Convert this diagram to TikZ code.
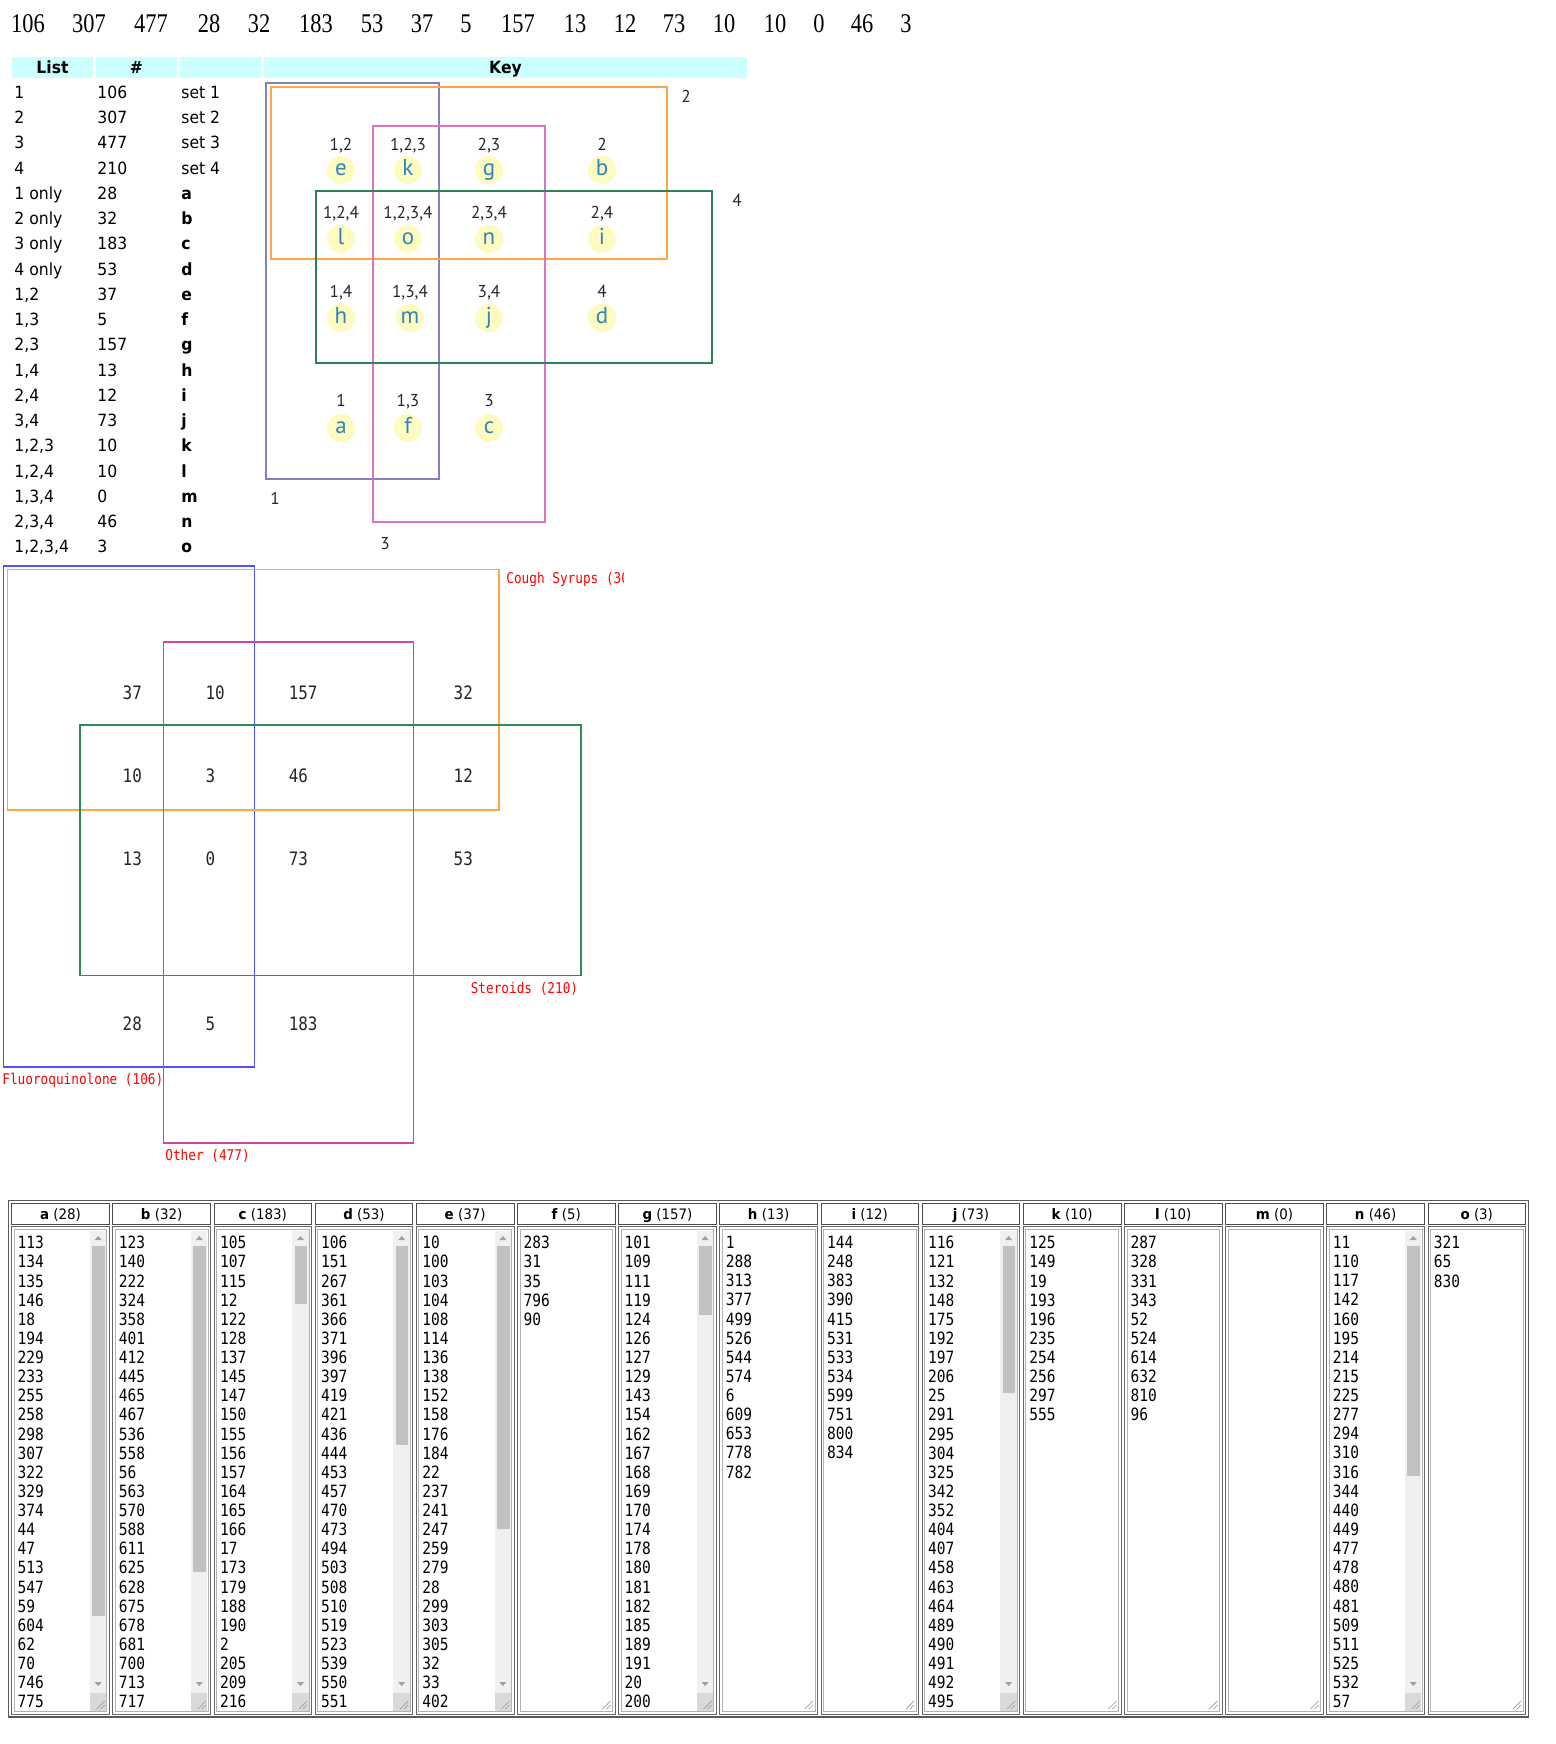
\documentclass[tikz,border=0pt]{standalone}
\usepackage{fontspec}
\usepackage{tikz}
\newfontfamily\numfont[FakeStretch=0.83]{Liberation Serif}
\newfontfamily\tabfont[FakeStretch=0.93]{DejaVu Sans}
\newfontfamily\keyfont{PT Sans}
\newfontfamily\vennfont[FakeStretch=0.86]{DejaVu Sans Mono}

\definecolor{hdcyan}{HTML}{CCFFFF}
\definecolor{keyblue}{HTML}{8080C4}
\definecolor{keyorange}{HTML}{FFA64D}
\definecolor{keypink}{HTML}{E070C4}
\definecolor{keygreen}{HTML}{2E8055}
\definecolor{keyyellow}{HTML}{FFFBC0}
\definecolor{keyletter}{HTML}{2C86BC}
\definecolor{vblue}{HTML}{5050FF}
\definecolor{vorange}{HTML}{FFA64D}
\definecolor{vpink}{HTML}{CC44AA}
\definecolor{vgreen}{HTML}{2E8B57}
\definecolor{scrolltrack}{HTML}{F0F0F0}
\definecolor{scrollthumb}{HTML}{C1C1C1}

\tikzset{
  topnum/.style={anchor=base,inner sep=0,font=\numfont\fontsize{13.5}{16}\selectfont},
  tabtxt/.style={anchor=base west,inner sep=0,font=\tabfont\fontsize{8.4}{10}\selectfont},
  tabhead/.style={anchor=base,inner sep=0,font=\tabfont\bfseries\fontsize{8.4}{10}\selectfont},
  keylab/.style={anchor=base,inner sep=0,text=black!85,font=\keyfont\fontsize{8.6}{10}\selectfont},
  keydot/.style={circle,fill=keyyellow,minimum size=14pt,inner sep=0,text=keyletter,
    text height=5.6pt,text depth=0pt,font=\keyfont\fontsize{11.5}{13}\selectfont},
  keyset/.style={draw,line width=1pt},
  vennset/.style={draw,line width=0.75pt},
  vennnum/.style={anchor=west,inner sep=0,text=black!85,font=\vennfont\fontsize{9.25}{11}\selectfont},
  vennlab/.style={inner sep=0,text=red,font=\vennfont\fontsize{7.4}{9}\selectfont},
  listhead/.style={anchor=base,inner sep=0,font=\tabfont\fontsize{7.2}{9}\selectfont},
  listtxt/.style={anchor=north west,inner sep=0,align=left,font=\vennfont\fontsize{8.45}{9.565}\selectfont},
}

\begin{document}
\begin{tikzpicture}[x=0.5pt,y=-0.5pt]
\useasboundingbox (0,0) rectangle (1556,1744);

% numbers along the top
\foreach \v/\x [count=\i] in {106/28,307/89,477/151,28/209,32/259,183/316,53/372,37/422,5/466,
    157/518,13/575,12/625,73/674,10/724,10/775,0/819,46/862,3/906}
  \node[topnum] (top\i) at (\x,33) {\v};

% header of the list table
\fill[hdcyan] (12,57) rectangle (93,78);
\fill[hdcyan] (96,57) rectangle (177,78);
\fill[hdcyan] (180,57) rectangle (261,78);
\fill[hdcyan] (264,57) rectangle (747,78);
\node[tabhead] (hdlist) at (52.5,74) {List};
\node[tabhead] (hdnum) at (136.5,74) {\#};
\node[tabhead] (hdkey) at (505.5,74) {Key};

% list table rows
\foreach \la/\nu/\se [count=\i] in {1/106/set 1,2/307/set 2,3/477/set 3,4/210/set 4}{
  \node[tabtxt] (ls\i) at (14,{98.3+25.26*(\i-1)}) {\la};
  \node[tabtxt] (ln\i) at (97,{98.3+25.26*(\i-1)}) {\nu};
  \node[tabtxt] (le\i) at (181,{98.3+25.26*(\i-1)}) {\se};
}
\foreach \la/\nu/\se [count=\i from 5] in {1 only/28/a,2 only/32/b,3 only/183/c,4 only/53/d,
    {1,2}/37/e,{1,3}/5/f,{2,3}/157/g,{1,4}/13/h,{2,4}/12/i,{3,4}/73/j,
    {1,2,3}/10/k,{1,2,4}/10/l,{1,3,4}/0/m,{2,3,4}/46/n,{1,2,3,4}/3/o}{
  \node[tabtxt] (ls\i) at (14,{98.3+25.26*(\i-1)}) {\la};
  \node[tabtxt] (ln\i) at (97,{98.3+25.26*(\i-1)}) {\nu};
  \node[tabtxt] (le\i) at (181,{98.3+25.26*(\i-1)}) {\textbf{\se}};
}

% key diagram
\draw[keyset,keyblue] (266,83) rectangle (439,479);
\draw[keyset,keyorange] (271,87) rectangle (667,259);
\draw[keyset,keypink] (373,126) rectangle (545,522);
\draw[keyset,keygreen] (316,191) rectangle (712,363);
\node[keylab] (kset2) at (686,103) {2};
\node[keylab] (kset4) at (737,207) {4};
\node[keylab] (kset1) at (275,504) {1};
\node[keylab] (kset3) at (385,549) {3};
\foreach \lab/\ltr/\x/\yl/\yd in {{1,2}/e/341/151/170,{1,2,3}/k/408/151/170,{2,3}/g/489/151/170,2/b/602/151/170,
    {1,2,4}/l/341/219/239,{1,2,3,4}/o/408/219/239,{2,3,4}/n/489/219/239,{2,4}/i/602/219/239,
    {1,4}/h/341/297/318,{1,3,4}/m/410/297/318,{3,4}/j/489/297/318,4/d/602/297/318,
    1/a/341/406/428,{1,3}/f/408/406/428,3/c/489/406/428}{
  \node[keylab] (kl\ltr) at (\x,\yl) {\lab};
  \node[keydot] (k\ltr) at (\x,\yd) {\ltr};
}

% Venn diagram of the four sets
\draw[vennset,vblue] (3.3,566) rectangle (254.5,1067);
\draw[vennset,vorange] (7.5,569.5) rectangle (499,810);
\draw[vennset,vpink] (163.4,642) rectangle (413.5,1143);
\draw[vennset,vgreen] (80.2,725.2) rectangle (581,975.5);
\foreach \v/\x/\y [count=\i] in {37/122.3/692.6,10/205.1/692.6,157/288.4/692.6,32/453.3/692.6,
    10/122.3/775.8,3/205.1/775.8,46/288.4/775.8,12/453.3/775.8,
    13/122.3/858.3,0/205.1/858.3,73/288.4/858.3,53/453.3/858.3,
    28/122.3/1023.7,5/205.1/1023.7,183/288.4/1023.7}
  \node[vennnum] (vn\i) at (\x,\y) {\v};
\begin{scope}
  \clip (500,560) rectangle (623,600);
  \node[vennlab,anchor=base west] (cough) at (506,583) {Cough Syrups (307)};
\end{scope}
\node[vennlab,anchor=base east] (steroids) at (578.5,993.4) {Steroids (210)};
\node[vennlab,anchor=base west] (fluoro) at (2,1084.4) {Fluoroquinolone (106)};
\node[vennlab,anchor=base west] (other) at (165,1160.4) {Other (477)};

% table of the regions
\draw[gray!70!black,line width=0.6pt] (8.3,1200.3) rectangle (1528.6,1717);
\foreach \ltr/\cnt [count=\i from 0] in {a/28,b/32,c/183,d/53,e/37,f/5,g/157,h/13,i/12,j/73,k/10,l/10,m/0,n/46,o/3}{
  \pgfmathsetmacro{\cl}{11.7+101.16*\i}
  \draw[gray!60!black] (\cl,1203.8) rectangle ({\cl+97.6},1223.9);
  \node[listhead] (lh\ltr) at ({\cl+48.8},1219) {\textbf{\ltr} (\cnt)};
  \draw[gray!80!black] (\cl,1226.7) rectangle ({\cl+97.6},1714);
  \draw[gray!60] ({\cl+2.5},1229.2) rectangle ({\cl+95.1},1711.3);
  \draw[gray!70] ({\cl+85},1709) -- ({\cl+93},1701) ({\cl+89},1709) -- ({\cl+93},1705);
}
% scroll bars
\foreach \i/\te in {0/1616,1/1572,2/1304,3/1445,4/1529,6/1315,9/1392.5,13/1476}{
  \pgfmathsetmacro{\cl}{11.7+101.16*\i}
  \fill[scrolltrack] ({\cl+78.3},1230.5) rectangle ({\cl+94.6},1710.5);
  \fill[scrollthumb] ({\cl+80.6},1246) rectangle ({\cl+93.3},\te);
  \fill[gray!30] ({\cl+78.3},1693) rectangle ({\cl+94.6},1710.5);
  \fill[gray!75] ({\cl+83},1240) -- ({\cl+90},1240) -- ({\cl+86.5},1236) -- cycle;
  \fill[gray!75] ({\cl+83},1682) -- ({\cl+90},1682) -- ({\cl+86.5},1686) -- cycle;
  \draw[gray!70] ({\cl+85},1709) -- ({\cl+93},1701) ({\cl+89},1709) -- ({\cl+93},1705);
}
\node[listtxt] (la) at (17.3,1235.8) {113\\134\\135\\146\\18\\194\\229\\233\\255\\258\\298\\307\\322\\329\\374\\44\\47\\513\\547\\59\\604\\62\\70\\746\\775};
\node[listtxt] (lb) at (118.5,1235.8) {123\\140\\222\\324\\358\\401\\412\\445\\465\\467\\536\\558\\56\\563\\570\\588\\611\\625\\628\\675\\678\\681\\700\\713\\717};
\node[listtxt] (lc) at (219.6,1235.8) {105\\107\\115\\12\\122\\128\\137\\145\\147\\150\\155\\156\\157\\164\\165\\166\\17\\173\\179\\188\\190\\2\\205\\209\\216};
\node[listtxt] (ld) at (320.8,1235.8) {106\\151\\267\\361\\366\\371\\396\\397\\419\\421\\436\\444\\453\\457\\470\\473\\494\\503\\508\\510\\519\\523\\539\\550\\551};
\node[listtxt] (le) at (421.9,1235.8) {10\\100\\103\\104\\108\\114\\136\\138\\152\\158\\176\\184\\22\\237\\241\\247\\259\\279\\28\\299\\303\\305\\32\\33\\402};
\node[listtxt] (lf) at (523.1,1235.8) {283\\31\\35\\796\\90};
\node[listtxt] (lg) at (624.3,1235.8) {101\\109\\111\\119\\124\\126\\127\\129\\143\\154\\162\\167\\168\\169\\170\\174\\178\\180\\181\\182\\185\\189\\191\\20\\200};
\node[listtxt] (lh) at (725.4,1235.8) {1\\288\\313\\377\\499\\526\\544\\574\\6\\609\\653\\778\\782};
\node[listtxt] (li) at (826.6,1235.8) {144\\248\\383\\390\\415\\531\\533\\534\\599\\751\\800\\834};
\node[listtxt] (lj) at (927.7,1235.8) {116\\121\\132\\148\\175\\192\\197\\206\\25\\291\\295\\304\\325\\342\\352\\404\\407\\458\\463\\464\\489\\490\\491\\492\\495};
\node[listtxt] (lk) at (1028.9,1235.8) {125\\149\\19\\193\\196\\235\\254\\256\\297\\555};
\node[listtxt] (ll) at (1130.1,1235.8) {287\\328\\331\\343\\52\\524\\614\\632\\810\\96};
\node[listtxt] (ln) at (1332.4,1235.8) {11\\110\\117\\142\\160\\195\\214\\215\\225\\277\\294\\310\\316\\344\\440\\449\\477\\478\\480\\481\\509\\511\\525\\532\\57};
\node[listtxt] (lo) at (1433.5,1235.8) {321\\65\\830};

\end{tikzpicture}
\end{document}
